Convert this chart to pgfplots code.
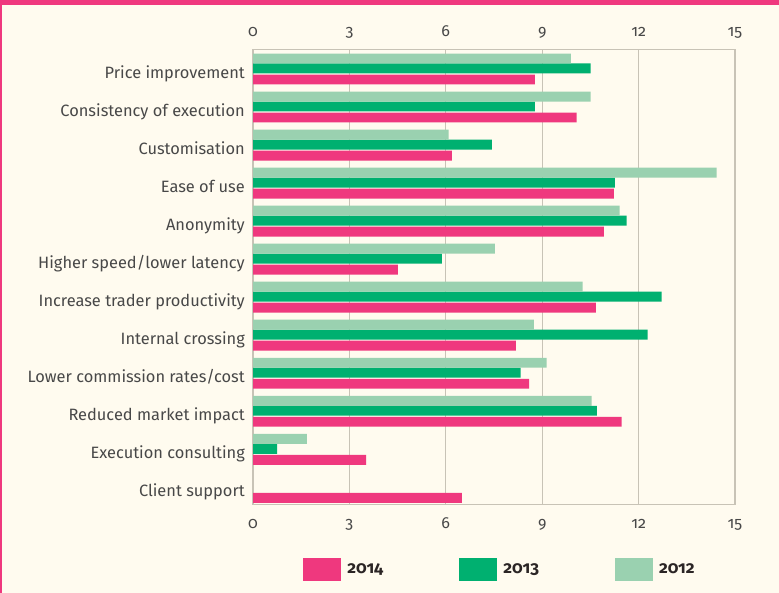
\documentclass[border=0pt]{standalone}
\usepackage{fontspec}
\setmainfont{Fira Sans}[Numbers=OldStyle]
\usepackage{pgfplots}
\pgfplotsset{compat=1.18}
\definecolor{pinkc}{RGB}{239,56,126}
\definecolor{greenc}{RGB}{0,176,112}
\definecolor{lightc}{RGB}{154,209,176}
\definecolor{bgc}{RGB}{255,251,239}
\definecolor{gridc}{RGB}{200,195,182}
\definecolor{txtc}{RGB}{72,72,72}
\definecolor{legc}{RGB}{43,37,37}
\begin{document}
\begin{tikzpicture}
\fill[bgc] (0pt,0pt) rectangle (779pt,593pt);
\fill[pinkc] (0pt,587.5pt) rectangle (779pt,593pt);
\fill[pinkc] (0pt,0pt) rectangle (1.8pt,593pt);
\begin{axis}[
 at={(253pt,88.7pt)}, anchor=south west, scale only axis,
 width=482pt, height=455pt,
 xmin=0, xmax=15, ymin=-0.46, ymax=11.504,
 xbar, bar width=0.262,
 xtick={0,3,6,9,12,15},
 ytick={0,...,11},
 yticklabels={Client support, Execution consulting, Reduced market impact, Lower commission rates/cost, Internal crossing, Increase trader productivity, Higher speed/lower latency, Anonymity, Ease of use, Customisation, Consistency of execution, Price improvement},
 major tick length=0pt,
 xmajorgrids, grid style={gridc, line width=1.1pt},
 axis line style={gridc, line width=1.1pt},
 /pgf/number format/assume math mode=true,
 xticklabel style={font=\fontsize{16}{19}\selectfont, text=txtc, anchor=base, inner sep=0pt, yshift=-24pt},
 yticklabel style={font=\fontsize{16.4}{20}\selectfont, text=txtc, anchor=base east, inner sep=0pt, xshift=-8pt, yshift=-9.8pt},
 legend style={at={(0.5104,-0.1433)}, anchor=center, draw=none, fill=none,
   legend columns=3, font=\fontsize{17}{19}\selectfont\bfseries, text=legc,
   nodes={inner sep=0pt},
   /tikz/every odd column/.append style={column sep=6pt},
   /tikz/every even column/.append style={column sep=76pt}},
 legend image code/.code={\fill[#1,draw=none] (0pt,-11.5pt) rectangle (38pt,11.5pt);},
]
\addplot[fill=pinkc, draw=none, bar shift=-0.29] coordinates {
 (8.77,11) (10.07,10) (6.19,9) (11.23,8) (10.92,7) (4.51,6) (10.67,5) (8.18,4) (8.59,3) (11.47,2) (3.52,1) (6.50,0)};
\addplot[fill=greenc, draw=none, bar shift=0] coordinates {
 (10.51,11) (8.77,10) (7.43,9) (11.26,8) (11.63,7) (5.88,6) (12.72,5) (12.28,4) (8.33,3) (10.70,2) (0.75,1)};
\addplot[fill=lightc, draw=none, bar shift=0.262] coordinates {
 (9.89,11) (10.51,10) (6.09,9) (14.43,8) (11.41,7) (7.53,6) (10.26,5) (8.74,4) (9.14,3) (10.54,2) (1.68,1)};
\legend{2014,2013,2012}
\end{axis}
\begin{axis}[
 at={(253pt,88.7pt)}, anchor=south west, scale only axis,
 width=482pt, height=455pt,
 xmin=0, xmax=15, ymin=-0.46, ymax=11.504,
 xtick={0,3,6,9,12,15}, ytick=\empty,
 xticklabel pos=upper,
 major tick length=0pt,
 axis line style={draw=none},
 /pgf/number format/assume math mode=true,
 xticklabel style={font=\fontsize{16}{19}\selectfont, text=txtc, anchor=base, inner sep=0pt, yshift=12.8pt},
]
\end{axis}
\end{tikzpicture}
\end{document}
